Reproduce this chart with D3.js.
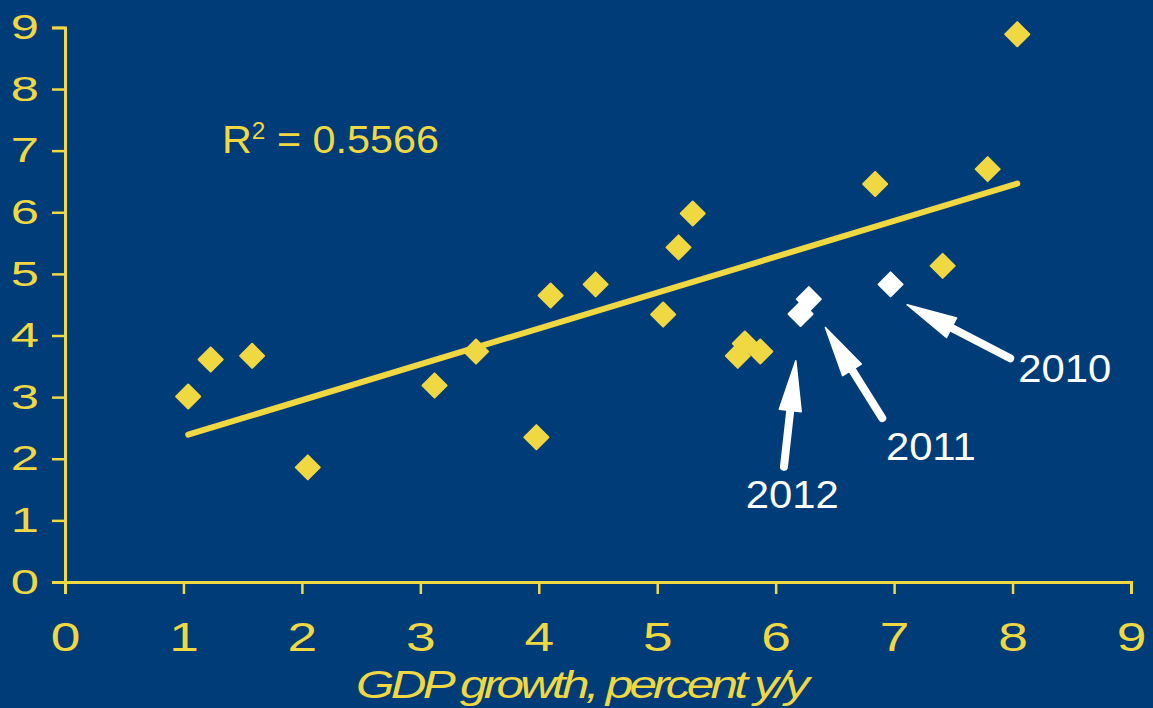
<!DOCTYPE html>
<html><head><meta charset="utf-8">
<script src="https://cdn.jsdelivr.net/npm/d3@7"></script>
<style>html,body{margin:0;padding:0;background:#003C78;} svg{display:block}</style>
</head><body>
<svg id="chart" width="1153" height="708"></svg>
<script>
// ---- data ----
const gdpGrowth = [1.04,1.23,1.58,2.05,3.12,3.47,3.98,4.10,4.48,5.05,5.18,5.30,5.68,5.74,5.87,6.84,7.41,7.79,8.04];
const yValue    = [3.01,3.61,3.67,1.86,3.19,3.74,2.35,4.65,4.83,4.34,5.43,5.98,3.67,3.87,3.74,6.46,5.13,6.70,8.89];
const highlightYears = ["2010","2011","2012"];
const highlightGdp   = [6.97,6.28,6.21];
const highlightValue = [4.83,4.59,4.35];
const arrowTailX = [7.98,6.90,6.07];
const arrowTailY = [3.63,2.66,1.87];
const arrowTipX  = [7.11,6.42,6.17];
const arrowTipY  = [4.50,4.13,3.59];
const labelX = [8.44,7.31,6.14];
const labelY = [3.25,1.98,1.20];
const xTicks = [0,1,2,3,4,5,6,7,8,9];
const yTicks = [0,1,2,3,4,5,6,7,8,9];
const r2Text = "0.5566";
const xTitle = "GDP growth, percent y/y";

// ---- style ----
const BG = "#003C78", YEL = "#F0D843", WHITE = "#FFFFFF";
const FONT = "'Liberation Sans', Arial, sans-serif";

const svg = d3.select("#chart");
svg.append("rect").attr("width",1153).attr("height",708).attr("fill",BG);

const x = d3.scaleLinear().domain([0,9]).range([65,1131]);
const y = d3.scaleLinear().domain([0,9]).range([582,27.4]);

// axes
const gx = svg.append("g").attr("transform",`translate(0,${y(0)})`)
  .call(d3.axisBottom(x).tickValues(xTicks).tickSize(12).tickSizeOuter(12).tickFormat(d3.format("d")));
const gy = svg.append("g").attr("transform",`translate(${x(0)},0)`)
  .call(d3.axisLeft(y).tickValues(yTicks).tickSize(13).tickSizeOuter(13).tickFormat(d3.format("d")));

[gx,gy].forEach(g=>{
  g.select(".domain").attr("stroke",YEL).attr("stroke-width",3);
  g.selectAll(".tick line").attr("stroke",YEL).attr("stroke-width",2.5);
  g.selectAll(".tick text").attr("fill",YEL).style("font-family",FONT);
});
const sxX = 1.3, sxY = 1.45;
gx.selectAll(".tick text").attr("y",69.5).attr("dy",0).style("font-size","41px")
  .attr("transform",`scale(${sxX},1)`);
gy.selectAll(".tick text").attr("x",-26/sxY).attr("dy","0.32em").style("font-size","35px")
  .attr("transform",`scale(${sxY},1)`);

// axis title
const sxT = 1.27;
svg.append("text").attr("x",581/sxT).attr("y",698).attr("text-anchor","middle")
  .attr("transform",`scale(${sxT},1)`)
  .style("font-family",FONT).style("font-style","italic").style("font-size","39px")
  .style("letter-spacing","-3px").attr("fill",YEL).text(xTitle);

// regression trend line (least squares on yellow points)
const mx = d3.mean(gdpGrowth), my = d3.mean(yValue);
let sxy=0, sxx=0;
gdpGrowth.forEach((v,i)=>{ sxy += (v-mx)*(yValue[i]-my); sxx += (v-mx)*(v-mx); });
const slope = sxy/sxx, icpt = my - slope*mx;
const [x0,x1] = d3.extent(gdpGrowth);
svg.append("line")
  .attr("x1",x(x0)).attr("y1",y(icpt+slope*x0))
  .attr("x2",x(x1)).attr("y2",y(icpt+slope*x1))
  .attr("stroke",YEL).attr("stroke-width",6).attr("stroke-linecap","round");

// R^2 label
const sxR = 1.06;
const rt = svg.append("text").attr("x",222/sxR).attr("y",153).attr("transform",`scale(${sxR},1)`)
  .style("font-family",FONT).style("font-size","39px").attr("fill",YEL);
rt.append("tspan").text("R");
rt.append("tspan").attr("dy",-14).style("font-size","23px").text("2");
rt.append("tspan").attr("dy",14).text(" = " + r2Text);

// diamonds
const diamond = d3.symbol().type(d3.symbolSquare).size(289);
svg.append("g").selectAll("path").data(gdpGrowth).join("path")
  .attr("d",diamond)
  .attr("transform",(d,i)=>`translate(${x(d)},${y(yValue[i])}) rotate(45)`)
  .attr("fill",YEL).attr("stroke",YEL).attr("stroke-width",2).attr("stroke-linejoin","round");

svg.append("g").selectAll("path").data(highlightGdp).join("path")
  .attr("d",diamond)
  .attr("transform",(d,i)=>`translate(${x(d)},${y(highlightValue[i])}) rotate(45)`)
  .attr("fill",WHITE).attr("stroke",WHITE).attr("stroke-width",2).attr("stroke-linejoin","round");

// arrows
const ag = svg.append("g");
highlightYears.forEach((yr,i)=>{
  const tx=x(arrowTailX[i]), ty=y(arrowTailY[i]);
  const px=x(arrowTipX[i]), py=y(arrowTipY[i]);
  const len=Math.hypot(px-tx,py-ty), ux=(px-tx)/len, uy=(py-ty)/len;
  const nx=-uy, ny=ux, L=50, W=11;
  const bx=px-ux*L, by=py-uy*L;
  ag.append("line").attr("x1",tx).attr("y1",ty).attr("x2",bx+ux*4).attr("y2",by+uy*4)
    .attr("stroke",WHITE).attr("stroke-width",8).attr("stroke-linecap","round");
  ag.append("path").attr("d",`M${px},${py}L${bx+nx*W},${by+ny*W}L${bx-nx*W},${by-ny*W}Z`)
    .attr("fill",WHITE).attr("stroke",WHITE).attr("stroke-width",1.5).attr("stroke-linejoin","round");
  const sxL=1.1;
  svg.append("text").attr("x",x(labelX[i])/sxL).attr("y",y(labelY[i])).attr("text-anchor","middle")
    .attr("transform",`scale(${sxL},1)`)
    .style("font-family",FONT).style("font-size","38px").attr("fill",WHITE).text(yr);
});
</script>
</body></html>
